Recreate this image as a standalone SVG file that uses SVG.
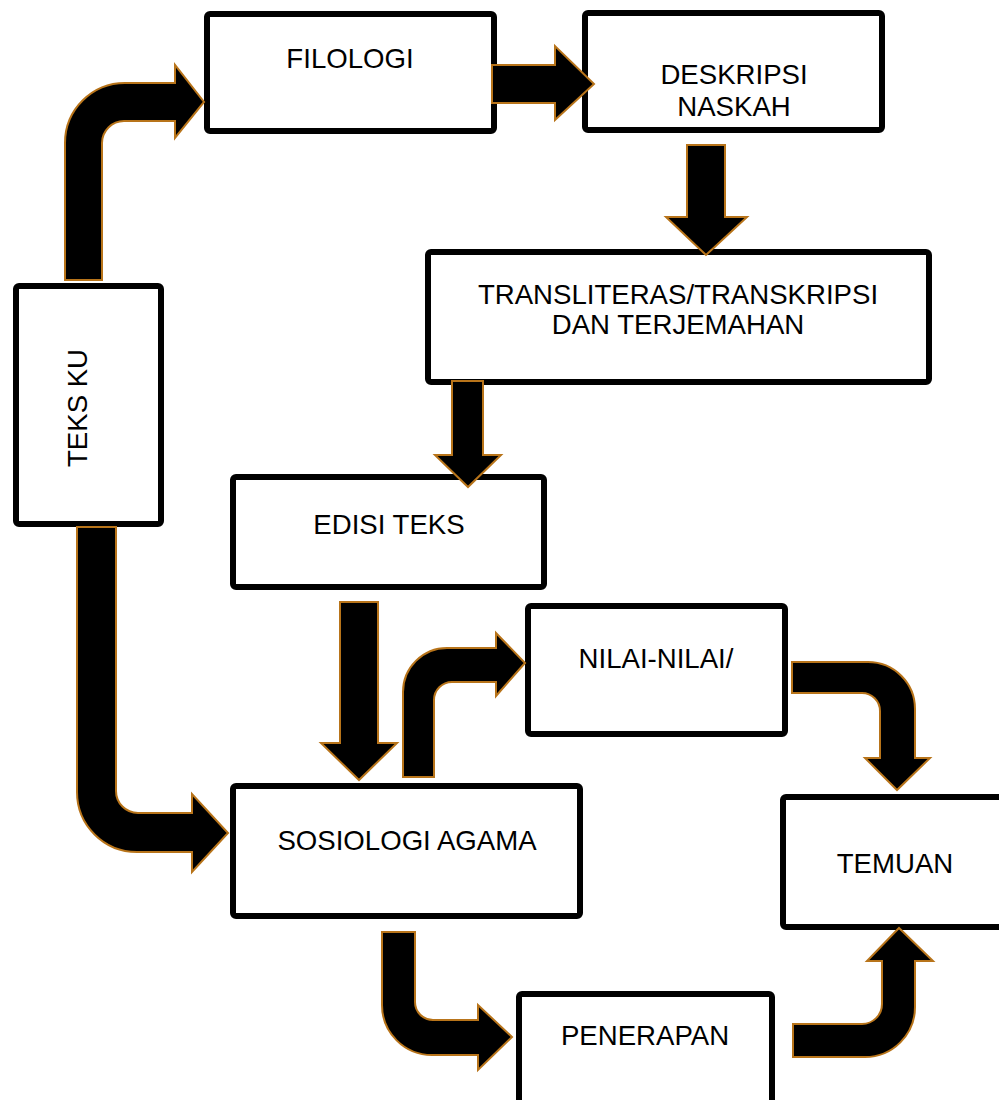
<svg xmlns="http://www.w3.org/2000/svg" width="999" height="1100" viewBox="0 0 999 1100">
<style>
.box{fill:#fff;stroke:#000;stroke-width:6;stroke-linejoin:round}
.arr{fill:#000;stroke:#b8741a;stroke-width:2;stroke-linejoin:miter}
.t{font-family:"Liberation Sans",Arial,sans-serif;font-size:27.6px;fill:#000;text-anchor:middle}
</style>
<rect width="999" height="1100" fill="#fff"/>
<g id="nodes">
<g id="filologi"><rect class="box" x="207" y="14" width="287" height="117" rx="3"/><text class="t" x="350" y="68">FILOLOGI</text></g>
<g id="deskripsi"><rect class="box" x="585" y="13" width="297" height="117" rx="3"/><text class="t" x="734" y="84">DESKRIPSI</text><text class="t" x="734" y="116">NASKAH</text></g>
<g id="transliteras"><rect class="box" x="428" y="252" width="501" height="130" rx="3"/><text class="t" x="678" y="304">TRANSLITERAS/TRANSKRIPSI</text><text class="t" x="678" y="334">DAN TERJEMAHAN</text></g>
<g id="teksku"><rect class="box" x="16" y="286" width="145" height="238" rx="3"/><text class="t" transform="translate(87 408) rotate(-90)">TEKS KU</text></g>
<g id="edisi"><rect class="box" x="233" y="477" width="311" height="110" rx="3"/><text class="t" x="389" y="534">EDISI TEKS</text></g>
<g id="nilai"><rect class="box" x="528" y="606" width="257" height="128" rx="3"/><text class="t" x="656" y="668">NILAI-NILAI/</text></g>
<g id="sosiologi"><rect class="box" x="233" y="786" width="347" height="130" rx="3"/><text class="t" x="407" y="850">SOSIOLOGI AGAMA</text></g>
<g id="temuan"><rect class="box" x="783" y="797" width="225" height="130" rx="3"/><text class="t" x="895" y="873">TEMUAN</text></g>
<g id="penerapan"><rect class="box" x="519" y="994" width="253" height="125" rx="3"/><text class="t" x="645" y="1045">PENERAPAN</text></g>
</g>
<g id="connectors">
<path class="arr" d="M65,280 L65,143 A60,60 0 0 1 125,83 L175,83 L175,65 L204,102 L175,138 L175,121 L124,121 A22,22 0 0 0 102,143 L102,280 Z"/>
<path class="arr" d="M492,65 L555,65 L555,46 L594,84 L555,120 L555,103 L492,103 Z"/>
<path class="arr" d="M687,145 L725,145 L725,217 L747,217 L706,255 L666,217 L687,217 Z"/>
<path class="arr" d="M452,381 L483,381 L483,455 L501,455 L468,487 L435,455 L452,455 Z"/>
<path class="arr" d="M77,527 L77,792 A60,60 0 0 0 137,852 L192,852 L192,872 L228,833 L192,794 L192,813 L138,813 A22,22 0 0 1 116,791 L116,527 Z"/>
<path class="arr" d="M403,777 L403,692 A44,44 0 0 1 447,648 L496,648 L496,633 L525,663 L496,696 L496,682 L452,682 A18,18 0 0 0 434,700 L434,777 Z"/>
<path class="arr" d="M792,662 L868,662 A47,47 0 0 1 915,709 L915,758 L930,758 L897,790 L865,758 L880,758 L880,711 A18,18 0 0 0 862,693 L792,693 Z"/>
<path class="arr" d="M382,932 L415,932 L415,1002 A18,18 0 0 0 433,1020 L478,1020 L478,1005 L512,1037 L478,1070 L478,1055 L432,1055 A50,50 0 0 1 382,1005 Z"/>
<path class="arr" d="M793,1024 L862,1024 A20,20 0 0 0 882,1004 L882,961 L867,961 L899,928 L933,961 L915,961 L915,1007 A50,50 0 0 1 865,1057 L793,1057 Z"/>
<path class="arr" d="M340,602 L378,602 L378,743 L397,743 L359,780 L321,743 L340,743 Z"/>
</g>
</svg>
